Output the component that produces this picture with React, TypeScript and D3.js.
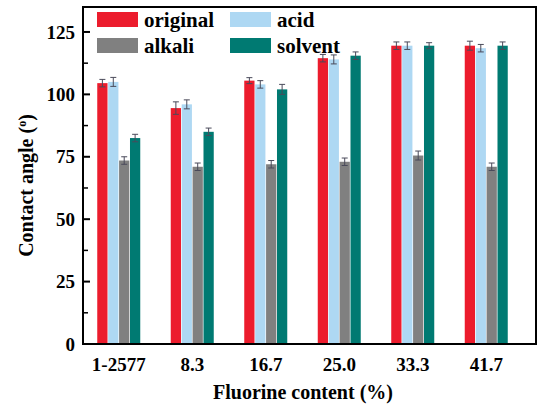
import React from 'react';
import * as d3 from 'd3';

const categories = ['1-2577', '8.3', '16.7', '25.0', '33.3', '41.7'];
const series = ['original', 'acid', 'alkali', 'solvent'];
const original = [104.5, 94.5, 105.5, 114.5, 119.5, 119.5];
const acid = [105, 96, 104, 114, 119.5, 118.5];
const alkali = [73.5, 71, 72, 73, 75.5, 71];
const solvent = [82.5, 85, 102, 115.5, 119.5, 119.5];
const originalErr = [1.5, 2.5, 1.2, 1.5, 1.5, 1.8];
const acidErr = [1.8, 1.8, 1.5, 1.8, 1.5, 1.5];
const alkaliErr = [1.5, 1.5, 1.5, 1.5, 1.8, 1.5];
const solventErr = [1.5, 1.5, 2, 1.5, 1.2, 1.5];
const yTicks = [0, 25, 50, 75, 100, 125];

const colors = ['#ec1c2d', '#aed8f3', '#808080', '#007a72'];
const values = [original, acid, alkali, solvent];
const errors = [originalErr, acidErr, alkaliErr, solventErr];

const txt: React.CSSProperties = { fontFamily: "'Liberation Serif', 'DejaVu Serif', serif", fontWeight: 'bold' };

export default function App() {
  const left = 83, right = 536, top = 7, bottom = 344;

  const y = d3.scaleLinear().domain([0, 135]).range([bottom, top]);
  const x0 = d3.scaleBand().domain(categories).range([82, 523])
    .paddingInner(0.415).paddingOuter(0.2075);
  const x1 = d3.scaleBand().domain(series).range([0, x0.bandwidth()]).paddingInner(0.06);

  const minor = d3.range(12.5, 135, 25);

  return (
    <svg width={539} height={406} style={{ position: 'absolute', left: 0, top: 0, background: '#fff' }}>
      {/* bars */}
      {categories.map((c, i) => (
        <g key={c} transform={`translate(${x0(c)},0)`}>
          {series.map((s, j) => {
            const v = values[j][i];
            const e = errors[j][i];
            const bx = x1(s)!;
            const cx = bx + x1.bandwidth() / 2;
            return (
              <g key={s}>
                <rect x={bx} y={y(v)} width={x1.bandwidth()} height={y(0) - y(v)} fill={colors[j]} />
                <g stroke="#4a4a5a" strokeWidth={1}>
                  <line x1={cx} x2={cx} y1={y(v + e)} y2={y(v - e)} />
                  <line x1={cx - 3} x2={cx + 3} y1={y(v + e)} y2={y(v + e)} />
                  <line x1={cx - 3} x2={cx + 3} y1={y(v - e)} y2={y(v - e)} />
                </g>
              </g>
            );
          })}
        </g>
      ))}

      {/* frame */}
      <rect x={left} y={top} width={right - left} height={bottom - top} fill="none" stroke="#000" strokeWidth={2} />

      {/* y ticks */}
      {yTicks.map(t => (
        <g key={t}>
          <line x1={left} x2={left + 7} y1={y(t)} y2={y(t)} stroke="#000" strokeWidth={2} />
          <text x={left - 8} y={y(t)} dy="0.35em" textAnchor="end" fontSize={19} style={txt}>{t}</text>
        </g>
      ))}
      {minor.map(t => (
        <line key={t} x1={left} x2={left + 5} y1={y(t)} y2={y(t)} stroke="#000" strokeWidth={1.5} />
      ))}

      {/* x labels */}
      {categories.map(c => (
        <text key={c} x={x0(c)! + x0.bandwidth() / 2} y={371} textAnchor="middle" fontSize={19} style={txt}>{c}</text>
      ))}

      <text x={303} y={399} textAnchor="middle" fontSize={20} style={txt}>Fluorine content (%)</text>
      <text transform={`translate(33,${(top + bottom) / 2 + 10}) rotate(-90)`} textAnchor="middle" fontSize={20} style={txt}>
        Contact angle (<tspan dy={-7} fontSize={12}>o</tspan><tspan dy={7}>)</tspan>
      </text>

      {/* legend */}
      {series.map((s, j) => {
        const lx = j % 2 === 0 ? 97 : 230;
        const ly = j < 2 ? 12 : 38;
        return (
          <g key={s}>
            <rect x={lx} y={ly} width={41} height={15} fill={colors[j]} />
            <text x={lx + 47} y={ly + 15} fontSize={21} style={txt}>{s}</text>
          </g>
        );
      })}
    </svg>
  );
}
